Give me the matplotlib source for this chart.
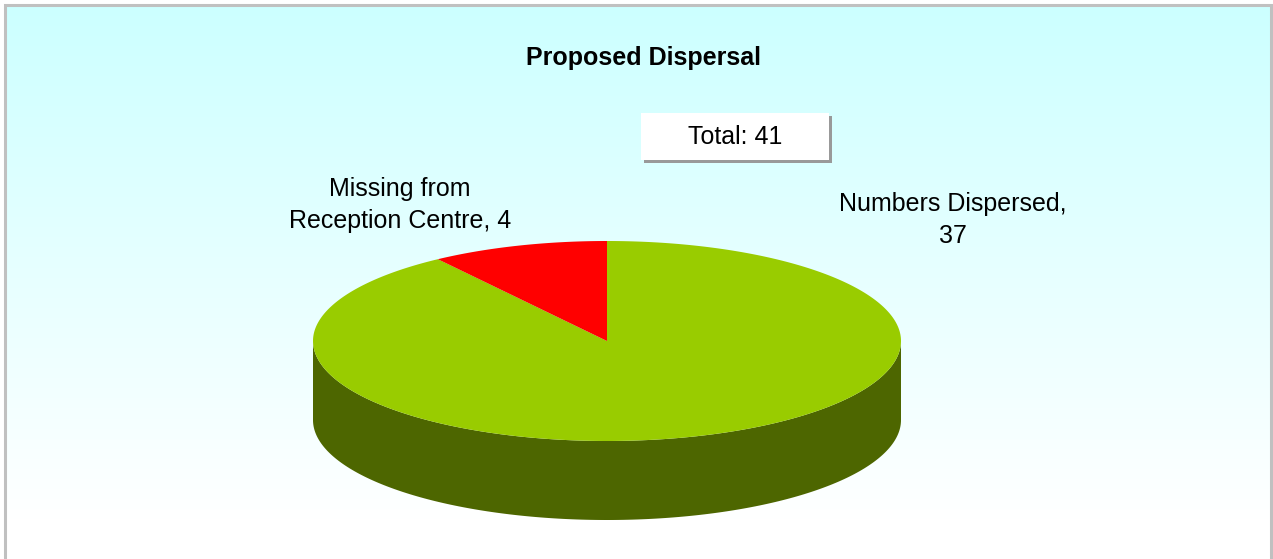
import matplotlib.pyplot as plt
import numpy as np
from matplotlib.patches import Polygon, Rectangle

plt.rcParams['font.family'] = ['Liberation Sans', 'DejaVu Sans']

# data
labels = ['Numbers Dispersed,\n37', 'Missing from\nReception Centre, 4']
values = [37, 4]
top_colors = ['#99CC00', '#FF0000']
side_colors = ['#4D6600', '#800000']
title = 'Proposed Dispersal'
total_text = 'Total: %d' % sum(values)

W, H = 1273, 559
fig = plt.figure(figsize=(W / 100, H / 100), dpi=100)
ax = fig.add_axes([0, 0, 1, 1])
ax.set_xlim(0, W)
ax.set_ylim(H, 0)
ax.axis('off')

# background gradient, light cyan to white
grad = np.linspace(0, 1, 300)
c0 = np.array([0xCC, 0xFF, 0xFF]) / 255.0
c1 = np.array([1.0, 1.0, 1.0])
bg = c0[None, :] * (1 - grad[:, None]) + c1[None, :] * grad[:, None]
bg = np.repeat(bg[:, None, :], 2, axis=1)
ax.imshow(bg, extent=[5, 1271, 520, 5], aspect='auto', zorder=0)
ax.add_patch(Rectangle((5, 520), 1266, H - 520, color='white', zorder=0))

# frame
ax.plot([5, 5, 1271, 1271], [H, 5, 5, H], color='#C0C0C0', lw=2.2, zorder=1,
        solid_joinstyle='miter')

# 3D pie geometry
cx, cy = 607, 341
rx, ry = 294, 100
depth = 79

fracs = np.array(values) / sum(values)
# excel style: start at 12 o'clock, go clockwise
starts = 90 - 360 * np.concatenate([[0], np.cumsum(fracs)[:-1]])
ends = starts - 360 * fracs


def ell(t):
    r = np.radians(t)
    return cx + rx * np.cos(r), cy - ry * np.sin(r)


# side walls (front half only)
for s, e, col in zip(starts, ends, side_colors):
    lo, hi = min(s, e), max(s, e)
    for k in (-360, 0, 360):
        a, b = max(lo + k, 180), min(hi + k, 360)
        if b <= a:
            continue
        t = np.linspace(a, b, 200)
        x, y = ell(t)
        pts = np.concatenate([np.column_stack([x, y]),
                              np.column_stack([x[::-1], y[::-1] + depth])])
        ax.add_patch(Polygon(pts, closed=True, color=col, lw=0, zorder=2))

# top face
for s, e, col in zip(starts, ends, top_colors):
    t = np.linspace(s, e, 400)
    x, y = ell(t)
    pts = np.vstack([[cx, cy], np.column_stack([x, y])])
    ax.add_patch(Polygon(pts, closed=True, color=col, lw=0, zorder=3))

# texts
ax.text(643, 58, title, ha='center', va='center', fontsize=18, fontweight='bold',
        zorder=5)

ax.add_patch(Rectangle((644, 116), 188, 47, color='#999999', lw=0, zorder=4))
ax.add_patch(Rectangle((641, 113), 188, 47, color='white', lw=0, zorder=4))
ax.text(735, 137, total_text, ha='center', va='center', fontsize=18, zorder=5)

ax.text(953, 220, labels[0], ha='center', va='center', fontsize=18,
        linespacing=1.42, zorder=5)
ax.text(400, 205, labels[1], ha='center', va='center', fontsize=18,
        linespacing=1.42, zorder=5)

plt.savefig('out.png', dpi=100)
